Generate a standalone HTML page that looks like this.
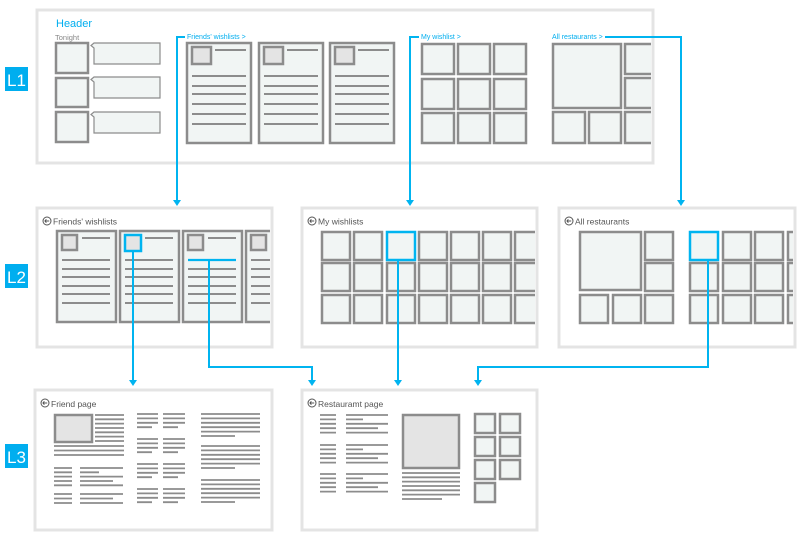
<!DOCTYPE html>
<html><head><meta charset="utf-8"><style>
html,body{margin:0;padding:0;background:#fff;}
svg{display:block;font-family:"Liberation Sans",sans-serif;}
</style></head><body>
<svg width="800" height="541" viewBox="0 0 800 541" xmlns="http://www.w3.org/2000/svg">
<defs>
<g id="card1">
<rect x="0" y="0" width="64" height="100" fill="#f1f5f4" stroke="#8c8c8c" stroke-width="2.5"/>
<rect x="5" y="4" width="19" height="17" fill="#e4e4e4" stroke="#8c8c8c" stroke-width="2.5"/>
<g stroke="#8c8c8c" stroke-width="2">
<line x1="28" y1="7" x2="59" y2="7"/>
<line x1="5" y1="33" x2="59" y2="33"/><line x1="5" y1="43" x2="59" y2="43"/><line x1="5" y1="51" x2="59" y2="51"/>
<line x1="5" y1="61" x2="59" y2="61"/><line x1="5" y1="71" x2="59" y2="71"/><line x1="5" y1="81" x2="59" y2="81"/>
</g></g>
<g id="card2">
<rect x="0" y="0" width="59" height="91" fill="#f1f5f4" stroke="#8c8c8c" stroke-width="2.5"/>
<g stroke="#8c8c8c" stroke-width="2">
<line x1="25" y1="7" x2="53" y2="7"/>
<line x1="5" y1="29" x2="53" y2="29"/><line x1="5" y1="38" x2="53" y2="38"/><line x1="5" y1="46" x2="53" y2="46"/>
<line x1="5" y1="55" x2="53" y2="55"/><line x1="5" y1="63" x2="53" y2="63"/><line x1="5" y1="72" x2="53" y2="72"/>
</g></g>
<rect id="t28" width="28" height="28" fill="#f1f5f4" stroke="#8c8c8c" stroke-width="2.5"/>
<rect id="t31" width="32" height="30" fill="#f1f5f4" stroke="#8c8c8c" stroke-width="2.5"/>
<rect id="t20" width="20" height="19" fill="#f1f5f4" stroke="#8c8c8c" stroke-width="2.5"/>
<g id="back"><circle cx="0" cy="0" r="4" fill="none" stroke="#555" stroke-width="1"/><path d="M-2.2 0H2.2M-2.2 0l1.6-1.6M-2.2 0l1.6 1.6" stroke="#555" stroke-width="1" fill="none"/></g>
<path id="arr" d="M-4 -6H4L0 0Z" fill="#00b4f0"/>
</defs>

<!-- level labels -->
<rect x="5" y="67" width="23" height="24" fill="#00aeef"/><text x="16.5" y="86" fill="#fff" font-size="17" text-anchor="middle">L1</text>
<rect x="5" y="264" width="23" height="24" fill="#00aeef"/><text x="16.5" y="283" fill="#fff" font-size="17" text-anchor="middle">L2</text>
<rect x="5" y="444" width="23" height="24" fill="#00aeef"/><text x="16.5" y="463" fill="#fff" font-size="17" text-anchor="middle">L3</text>

<!-- frames -->
<g fill="#fff" stroke="#e4e4e4" stroke-width="3">
<rect x="37" y="10" width="616" height="153"/>
<rect x="37" y="208" width="235" height="139"/>
<rect x="302" y="208" width="235" height="139"/>
<rect x="559" y="208" width="236" height="139"/>
<rect x="35" y="390" width="237" height="140"/>
<rect x="302" y="390" width="235" height="140"/>
</g>

<!-- L1 content -->
<text x="56" y="27" fill="#00aeef" font-size="11">Header</text>
<text x="55" y="40" fill="#888" font-size="7.5">Tonight</text>
<g fill="#f1f5f4" stroke="#8c8c8c" stroke-width="2.5">
<rect x="56" y="43" width="32" height="30"/><rect x="56" y="78" width="32" height="29"/><rect x="56" y="112" width="32" height="30"/>
</g>
<g fill="#f1f5f4" stroke="#8c8c8c" stroke-width="1.2">
<path d="M94 43H160V64H94V48L91 45.5L94 43Z"/>
<path d="M94 77H160V98H94V82L91 79.5L94 77Z"/>
<path d="M94 112H160V133H94V117L91 114.5L94 112Z"/>
</g>
<text x="187" y="39" fill="#00aeef" font-size="7">Friends' wishlists &gt;</text>
<use href="#card1" x="187" y="43"/><use href="#card1" x="259" y="43"/><use href="#card1" x="330" y="43"/>
<text x="421" y="39" fill="#00aeef" font-size="7">My wishlist &gt;</text>
<use href="#t31" x="422" y="44"/><use href="#t31" x="458" y="44"/><use href="#t31" x="494" y="44"/>
<use href="#t31" x="422" y="79"/><use href="#t31" x="458" y="79"/><use href="#t31" x="494" y="79"/>
<use href="#t31" x="422" y="113"/><use href="#t31" x="458" y="113"/><use href="#t31" x="494" y="113"/>
<text x="552" y="39" fill="#00aeef" font-size="7">All restaurants &gt;</text>
<svg x="550" y="40" width="101" height="110">
<rect x="3" y="4" width="68" height="64" fill="#f1f5f4" stroke="#8c8c8c" stroke-width="2.5"/>
<rect x="75" y="4" width="32" height="30" fill="#f1f5f4" stroke="#8c8c8c" stroke-width="2.5"/>
<rect x="75" y="38" width="32" height="30" fill="#f1f5f4" stroke="#8c8c8c" stroke-width="2.5"/>
<rect x="3" y="72" width="32" height="31" fill="#f1f5f4" stroke="#8c8c8c" stroke-width="2.5"/>
<rect x="39" y="72" width="32" height="31" fill="#f1f5f4" stroke="#8c8c8c" stroke-width="2.5"/>
<rect x="75" y="72" width="32" height="31" fill="#f1f5f4" stroke="#8c8c8c" stroke-width="2.5"/>
</svg>

<!-- L2 friends -->
<use href="#back" x="47" y="221"/>
<text x="53" y="224.5" fill="#555" font-size="8.5">Friends' wishlists</text>
<use href="#card2" x="57" y="231"/><use href="#card2" x="120" y="231"/><use href="#card2" x="183" y="231"/>
<svg x="244" y="229" width="26" height="96"><use href="#card2" x="2" y="2"/></svg>
<rect x="62" y="235" width="15" height="15" fill="#e4e4e4" stroke="#8c8c8c" stroke-width="2.5"/>
<rect x="125" y="235" width="16" height="16" fill="#e4e4e4" stroke="#00b4f0" stroke-width="2.5"/>
<rect x="188" y="235" width="15" height="15" fill="#e4e4e4" stroke="#8c8c8c" stroke-width="2.5"/>
<rect x="251" y="235" width="15" height="15" fill="#e4e4e4" stroke="#8c8c8c" stroke-width="2.5"/>
<line x1="188" y1="260" x2="236" y2="260" stroke="#00b4f0" stroke-width="2.2"/>

<!-- L2 my wishlists -->
<use href="#back" x="312" y="221"/>
<text x="318" y="224.5" fill="#555" font-size="8.5">My wishlists</text>
<svg x="318" y="228" width="217" height="100">
<g transform="translate(-318,-228)">
<use href="#t28" x="322" y="232"/><use href="#t28" x="354" y="232"/><use href="#t28" x="419" y="232"/><use href="#t28" x="451" y="232"/><use href="#t28" x="483" y="232"/><use href="#t28" x="515" y="232"/>
<use href="#t28" x="322" y="263"/><use href="#t28" x="354" y="263"/><use href="#t28" x="387" y="263"/><use href="#t28" x="419" y="263"/><use href="#t28" x="451" y="263"/><use href="#t28" x="483" y="263"/><use href="#t28" x="515" y="263"/>
<use href="#t28" x="322" y="295"/><use href="#t28" x="354" y="295"/><use href="#t28" x="387" y="295"/><use href="#t28" x="419" y="295"/><use href="#t28" x="451" y="295"/><use href="#t28" x="483" y="295"/><use href="#t28" x="515" y="295"/>
<rect x="387" y="232" width="28" height="28" fill="#f1f5f4" stroke="#00b4f0" stroke-width="2.5"/>
</g></svg>

<!-- L2 all restaurants -->
<use href="#back" x="569" y="221"/>
<text x="575" y="224.5" fill="#555" font-size="8.5">All restaurants</text>
<svg x="575" y="228" width="218" height="100">
<g transform="translate(-575,-228)">
<rect x="580" y="232" width="61" height="58" fill="#f1f5f4" stroke="#8c8c8c" stroke-width="2.5"/>
<use href="#t28" x="645" y="232"/><use href="#t28" x="645" y="263"/>
<use href="#t28" x="580" y="295"/><use href="#t28" x="613" y="295"/><use href="#t28" x="645" y="295"/>
<use href="#t28" x="723" y="232"/><use href="#t28" x="755" y="232"/><use href="#t28" x="788" y="232"/>
<use href="#t28" x="690" y="263"/><use href="#t28" x="723" y="263"/><use href="#t28" x="755" y="263"/><use href="#t28" x="788" y="263"/>
<use href="#t28" x="690" y="295"/><use href="#t28" x="723" y="295"/><use href="#t28" x="755" y="295"/><use href="#t28" x="788" y="295"/>
<rect x="690" y="232" width="28" height="28" fill="#f1f5f4" stroke="#00b4f0" stroke-width="2.5"/>
</g></svg>

<!-- L3 friend page -->
<use href="#back" x="45" y="403"/>
<text x="51" y="407" fill="#555" font-size="8.5">Friend page</text>
<rect x="55" y="415" width="37" height="27" fill="#e4e4e4" stroke="#8c8c8c" stroke-width="2.5"/>
<g stroke="#8c8c8c" stroke-width="1.8">
<path d="M95 415H124M95 419.3H124M95 423.6H124M95 428H124M95 432.3H124M95 436.6H124M95 441H124"/>
<path d="M54 446H124M54 450.5H124M54 455H124"/>
<path d="M54 468H72M54 472.3H72M54 476.6H72M54 481H72M54 485.3H72"/>
<path d="M80 468H123M80 472.3H99M80 476.6H123M80 481H113M80 485.3H123"/>
<path d="M54 494H72M54 498.5H72M54 503H72M80 494H123M80 498.5H113M80 503H123"/>
<path d="M137 414H158M137 418.4H158M137 422.8H158M137 427.2H152M163 414H185M163 418.4H185M163 422.8H185M163 427.2H178"/>
<path d="M137 439H158M137 443.4H158M137 447.8H158M137 452.2H152M163 439H185M163 443.4H185M163 447.8H185M163 452.2H178"/>
<path d="M137 464H158M137 468.4H158M137 472.8H158M137 477.2H152M163 464H185M163 468.4H185M163 472.8H185M163 477.2H178"/>
<path d="M137 489H158M137 493.4H158M137 497.8H158M137 502.2H152M163 489H185M163 493.4H185M163 497.8H185M163 502.2H178"/>
<path d="M201 414H260M201 418.4H260M201 422.8H260M201 427.2H260M201 431.6H260M201 436H235"/>
<path d="M201 446H260M201 450.4H260M201 454.8H260M201 459.2H260M201 463.6H260M201 468H235"/>
<path d="M201 480H260M201 484.4H260M201 488.8H260M201 493.2H260M201 497.6H260M201 502H235"/>
</g>

<!-- L3 restaurant page -->
<use href="#back" x="312" y="403"/>
<text x="318" y="407" fill="#555" font-size="8.5">Restauramt page</text>
<g stroke="#8c8c8c" stroke-width="1.8">
<path d="M320 415H336M320 419.4H336M320 423.8H336M320 428.2H336M320 432.6H336M346 415H388M346 419.4H363M346 423.8H388M346 428.2H378M346 432.6H388"/>
<path d="M320 445H336M320 449.4H336M320 453.8H336M320 458.2H336M320 462.6H336M346 445H388M346 449.4H363M346 453.8H388M346 458.2H378M346 462.6H388"/>
<path d="M320 474H336M320 478.4H336M320 482.8H336M320 487.2H336M320 491.6H336M346 474H388M346 478.4H363M346 482.8H388M346 487.2H378M346 491.6H388"/>
<path d="M402 473H460M402 477.3H460M402 481.6H460M402 486H460M402 490.3H460M402 494.6H460M402 499H442"/>
</g>
<rect x="403" y="415" width="56" height="53" fill="#e4e4e4" stroke="#8c8c8c" stroke-width="2.5"/>
<use href="#t20" x="475" y="414"/><use href="#t20" x="500" y="414"/>
<use href="#t20" x="475" y="437"/><use href="#t20" x="500" y="437"/>
<use href="#t20" x="475" y="460"/><use href="#t20" x="500" y="460"/>
<use href="#t20" x="475" y="483"/>

<!-- connectors -->
<g stroke="#00b4f0" stroke-width="2" fill="none">
<path d="M185 37H177V200"/>
<path d="M419 37H410V200"/>
<path d="M605 37H681V200"/>
<path d="M133 251V380"/>
<path d="M209 260V367H312V380"/>
<path d="M398 260V380"/>
<path d="M708 260V367H478V380"/>
</g>
<use href="#arr" x="177" y="206"/>
<use href="#arr" x="410" y="206"/>
<use href="#arr" x="681" y="206"/>
<use href="#arr" x="133" y="386"/>
<use href="#arr" x="312" y="386"/>
<use href="#arr" x="398" y="386"/>
<use href="#arr" x="478" y="386"/>
</svg>
</body></html>
